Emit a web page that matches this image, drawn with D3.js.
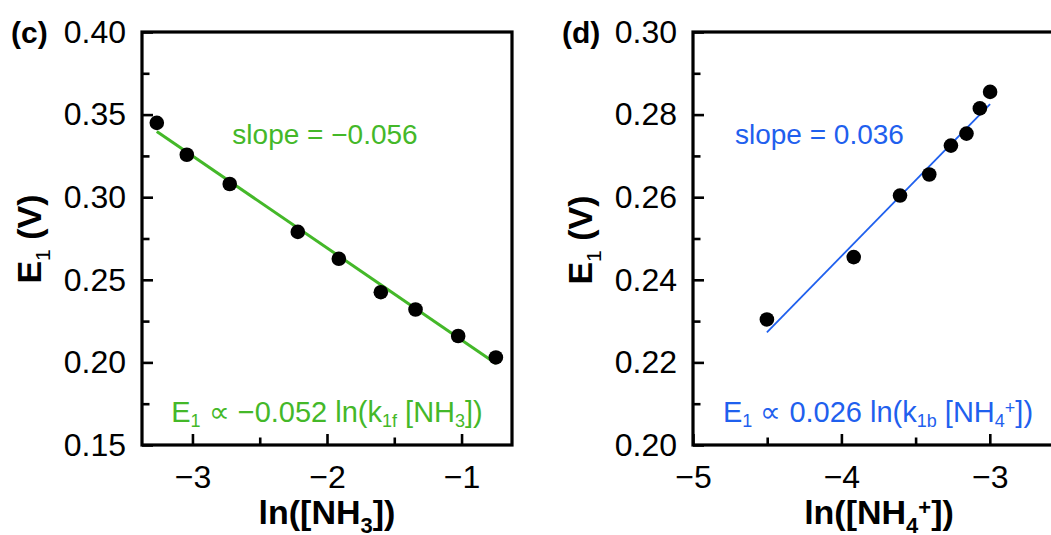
<!DOCTYPE html>
<html>
<head>
<meta charset="utf-8">
<script src="https://cdn.jsdelivr.net/npm/d3@7"></script>
<style>
  body { margin: 0; background: #fff; }
  text { font-family: "Liberation Sans", Arial, Helvetica, sans-serif; }
</style>
</head>
<body>
<svg id="chart" width="1051" height="535"></svg>
<script>
// panel (c): E1 vs ln([NH3])
var lnNH3 = [-3.265, -3.042, -2.723, -2.217, -1.912, -1.600, -1.342, -1.025, -0.745];
var e1NH3 = [0.345, 0.3257, 0.308, 0.279, 0.2627, 0.2425, 0.232, 0.216, 0.203];
var fitNH3 = { slope: -0.0557, intercept: 0.1579 };

// panel (d): E1 vs ln([NH4+])
var lnNH4 = [-4.502, -3.917, -3.605, -3.408, -3.262, -3.157, -3.067, -2.998];
var e1NH4 = [0.2304, 0.2455, 0.2604, 0.2655, 0.2725, 0.2754, 0.2815, 0.2855];
var fitNH4 = { slope: 0.03677, intercept: 0.3928 };

// ticks
var yTicksC = [0.15, 0.20, 0.25, 0.30, 0.35, 0.40];
var yMinorC = [0.175, 0.225, 0.275, 0.325, 0.375];
var xTicksC = [-3, -2, -1];
var xMinorC = [-2.5, -1.5];
var yTicksD = [0.20, 0.22, 0.24, 0.26, 0.28, 0.30];
var yMinorD = [0.21, 0.23, 0.25, 0.27, 0.29];
var xTicksD = [-5, -4, -3];
var xMinorD = [-4.5, -3.5];

var green = "#44b829";
var blue = "#1f60ee";

var svg = d3.select("#chart");
svg.append("rect").attr("width", 1051).attr("height", 535).attr("fill", "#fff");

var top_ = 32, bottom = 445;

function panel(opt) {
    var x = d3.scaleLinear().domain(opt.xDomain).range([opt.left, opt.right]);
    var y = d3.scaleLinear().domain(opt.yDomain).range([bottom, top_]);
    var g = svg.append("g");

    // minor ticks first
    g.append("g").attr("transform", "translate(" + opt.left + ",0)")
        .call(d3.axisLeft(y).tickValues(opt.yMinor).tickSize(-7.5).tickFormat(""))
        .call(styleAxis);
    g.append("g").attr("transform", "translate(0," + bottom + ")")
        .call(d3.axisBottom(x).tickValues(opt.xMinor).tickSize(-7.5).tickFormat(""))
        .call(styleAxis);

    // major ticks with labels
    g.append("g").attr("transform", "translate(" + opt.left + ",0)")
        .call(d3.axisLeft(y).tickValues(opt.yTicks).tickSize(-11).tickPadding(16).tickFormat(d3.format(".2f")))
        .call(styleAxis);
    g.append("g").attr("transform", "translate(0," + bottom + ")")
        .call(d3.axisBottom(x).tickValues(opt.xTicks).tickSize(-11).tickPadding(20).tickFormat(d3.format("d")))
        .call(styleAxis);

    // frame
    g.append("rect")
        .attr("x", opt.left).attr("y", top_)
        .attr("width", opt.right - opt.left).attr("height", bottom - top_)
        .attr("fill", "none").attr("stroke", "#000").attr("stroke-width", 3.2);

    // fit line
    var x0 = d3.min(opt.xs), x1 = d3.max(opt.xs);
    var fitPts = [x0, x1].map(function (v) { return [v, opt.fit.intercept + opt.fit.slope * v]; });
    g.append("path")
        .attr("d", d3.line().x(function (d) { return x(d[0]); }).y(function (d) { return y(d[1]); })(fitPts))
        .attr("fill", "none").attr("stroke", opt.color).attr("stroke-width", opt.fitWidth);

    // points
    g.selectAll("circle.pt")
        .data(opt.xs.map(function (v, i) { return [v, opt.ys[i]]; }))
        .enter().append("circle")
        .attr("class", "pt")
        .attr("cx", function (d) { return x(d[0]); })
        .attr("cy", function (d) { return y(d[1]); })
        .attr("r", 7.3)
        .attr("fill", "#000");

    return { g: g, x: x, y: y };
}

function styleAxis(sel) {
    sel.select(".domain").remove();
    sel.selectAll(".tick line").attr("stroke", "#000").attr("stroke-width", 2.6);
    sel.selectAll(".tick text").attr("fill", "#000").attr("font-size", "32px")
        .style("font-family", "'Liberation Sans', Arial, sans-serif");
}

var pc = panel({
    left: 142, right: 512, xDomain: [-3.375, -0.625], yDomain: [0.15, 0.40],
    xTicks: xTicksC, xMinor: xMinorC, yTicks: yTicksC, yMinor: yMinorC,
    xs: lnNH3, ys: e1NH3, fit: fitNH3, color: green, fitWidth: 3
});
var pd = panel({
    left: 693, right: 1064, xDomain: [-5, -2.5], yDomain: [0.20, 0.30],
    xTicks: xTicksD, xMinor: xMinorD, yTicks: yTicksD, yMinor: yMinorD,
    xs: lnNH4, ys: e1NH4, fit: fitNH4, color: blue, fitWidth: 1.8
});

// panel letters
svg.append("text").attr("x", 11).attr("y", 43).attr("font-size", "30px").attr("font-weight", "bold").text("(c)");
svg.append("text").attr("x", 562).attr("y", 43).attr("font-size", "30px").attr("font-weight", "bold").text("(d)");

// y axis titles
function yTitle(cx, cy) {
    var t = svg.append("text")
        .attr("transform", "translate(" + cx + "," + cy + ") rotate(-90)")
        .attr("text-anchor", "middle").attr("font-size", "34px").attr("font-weight", "bold");
    t.append("tspan").text("E");
    t.append("tspan").attr("font-size", "21px").attr("font-weight", "normal").attr("dy", 9).text("1");
    t.append("tspan").attr("dy", -9).text(" (V)");
}
yTitle(41, 239);
yTitle(592, 240);

// x axis titles
var xt1 = svg.append("text").attr("x", 327).attr("y", 524).attr("text-anchor", "middle")
    .attr("font-size", "34px").attr("font-weight", "bold");
xt1.append("tspan").text("ln([NH");
xt1.append("tspan").attr("font-size", "22px").attr("dy", 9).text("3");
xt1.append("tspan").attr("dy", -9).text("])");

var xt2 = svg.append("text").attr("x", 879).attr("y", 524).attr("text-anchor", "middle")
    .attr("font-size", "34px").attr("font-weight", "bold");
xt2.append("tspan").text("ln([NH");
xt2.append("tspan").attr("font-size", "22px").attr("dy", 9).text("4");
xt2.append("tspan").attr("font-size", "22px").attr("dy", -18).text("+");
xt2.append("tspan").attr("dy", 9).text("])");

// annotations
svg.append("text").attr("x", 325).attr("y", 144).attr("text-anchor", "middle")
    .attr("font-size", "28px").attr("fill", green).text("slope = \u22120.056");
svg.append("text").attr("x", 735).attr("y", 144)
    .attr("font-size", "28px").attr("fill", blue).text("slope = 0.036");

var a1 = svg.append("text").attr("x", 327).attr("y", 422).attr("text-anchor", "middle")
    .attr("font-size", "29px").attr("fill", green);
a1.append("tspan").text("E");
a1.append("tspan").attr("font-size", "18px").attr("dy", 5).text("1");
a1.append("tspan").attr("dy", -5).text(" \u221D \u22120.052 ln(k");
a1.append("tspan").attr("font-size", "18px").attr("dy", 5).text("1f");
a1.append("tspan").attr("dy", -5).text(" [NH");
a1.append("tspan").attr("font-size", "18px").attr("dy", 5).text("3");
a1.append("tspan").attr("dy", -5).text("])");

var a2 = svg.append("text").attr("x", 878).attr("y", 422).attr("text-anchor", "middle")
    .attr("font-size", "29px").attr("fill", blue);
a2.append("tspan").text("E");
a2.append("tspan").attr("font-size", "18px").attr("dy", 5).text("1");
a2.append("tspan").attr("dy", -5).text(" \u221D 0.026 ln(k");
a2.append("tspan").attr("font-size", "18px").attr("dy", 5).text("1b");
a2.append("tspan").attr("dy", -5).text(" [NH");
a2.append("tspan").attr("font-size", "18px").attr("dy", 5).text("4");
a2.append("tspan").attr("font-size", "18px").attr("dy", -13).text("+");
a2.append("tspan").attr("dy", 8).text("])");
</script>
</body>
</html>
